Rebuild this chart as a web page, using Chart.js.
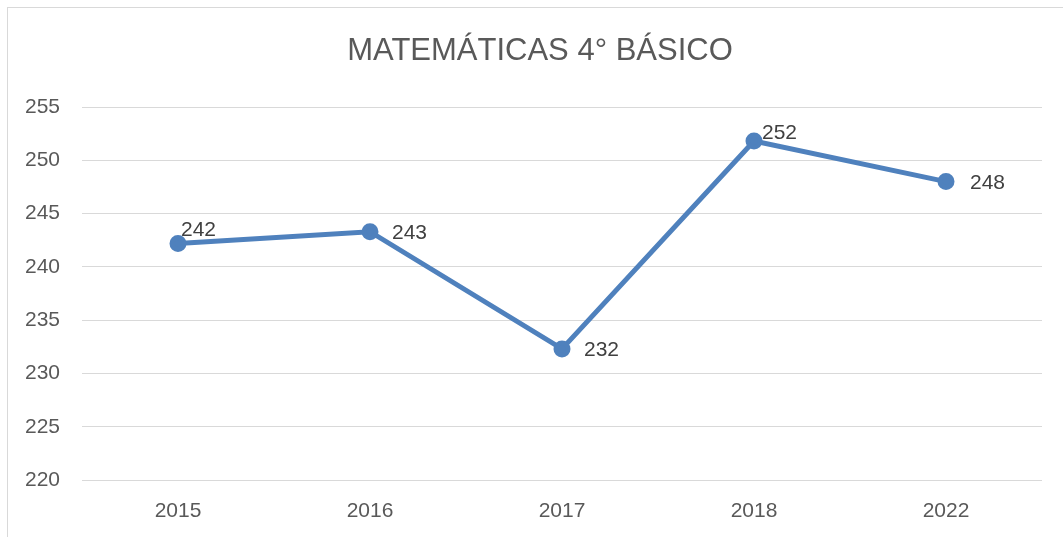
<!DOCTYPE html>
<html>
<head>
<meta charset="utf-8">
<script src="https://cdn.jsdelivr.net/npm/chart.js@4"></script>
<style>
  html, body { margin: 0; padding: 0; background: #fff; }
  #wrap { width: 1063px; height: 537px; }
</style>
</head>
<body>
<div id="wrap"><canvas id="lineChart" width="1063" height="537"></canvas></div>
<script>
const years = ["2015", "2016", "2017", "2018", "2022"];
const scores = [242.2, 243.3, 232.3, 251.8, 248.0];
const yTicks = [220, 225, 230, 235, 240, 245, 250, 255];
const titleText = "MATEMÁTICAS 4° BÁSICO";

const FONT = "'Liberation Sans', Arial, sans-serif";

// label placement next to each point (like Excel's "right" labels)
const labelShift = [[3, -13], [22, 2], [22, 1], [8, -8], [24, 2]];

const frameAndTitle = {
  id: "frameAndTitle",
  beforeDraw(chart) {
    const c = chart.ctx;
    c.save();
    c.strokeStyle = "#d9d9d9";
    c.lineWidth = 1;
    c.strokeRect(7.5, 7.5, 1200, 700);
    c.fillStyle = "#595959";
    c.font = "31px " + FONT;
    c.textAlign = "center";
    c.textBaseline = "middle";
    c.fillText(titleText, 540, 51);
    c.restore();
  },
  afterDatasetsDraw(chart) {
    const c = chart.ctx;
    const meta = chart.getDatasetMeta(0);
    c.save();
    c.fillStyle = "#404040";
    c.font = "21px " + FONT;
    c.textAlign = "left";
    c.textBaseline = "middle";
    meta.data.forEach((pt, i) => {
      const s = labelShift[i];
      c.fillText(Math.round(scores[i]), pt.x + s[0], pt.y + s[1]);
    });
    c.restore();
  }
};

new Chart(document.getElementById("lineChart").getContext("2d"), {
  type: "line",
  data: {
    labels: years,
    datasets: [{
      data: scores,
      borderColor: "#4f81bd",
      backgroundColor: "#4f81bd",
      borderWidth: 5,
      pointRadius: 6,
      pointHoverRadius: 6,
      tension: 0
    }]
  },
  options: {
    responsive: false,
    animation: false,
    layout: { padding: { top: 107, right: 21, bottom: 0, left: 0 } },
    plugins: {
      legend: { display: false },
      title: { display: false },
      tooltip: { enabled: false }
    },
    scales: {
      x: {
        offset: true,
        grid: { display: false, drawTicks: false },
        border: { display: false },
        ticks: { color: "#595959", font: { family: FONT, size: 21 }, padding: 19 },
        afterFit(s) { s.height = 57; }
      },
      y: {
        min: 220,
        max: 255,
        afterBuildTicks(s) { s.ticks = yTicks.map(v => ({ value: v })); },
        grid: { color: "#d9d9d9", lineWidth: 1, drawTicks: false },
        border: { display: false },
        ticks: { color: "#595959", font: { family: FONT, size: 21 }, padding: 22 },
        afterFit(s) { s.width = 82; }
      }
    }
  },
  plugins: [frameAndTitle]
});
</script>
</body>
</html>
